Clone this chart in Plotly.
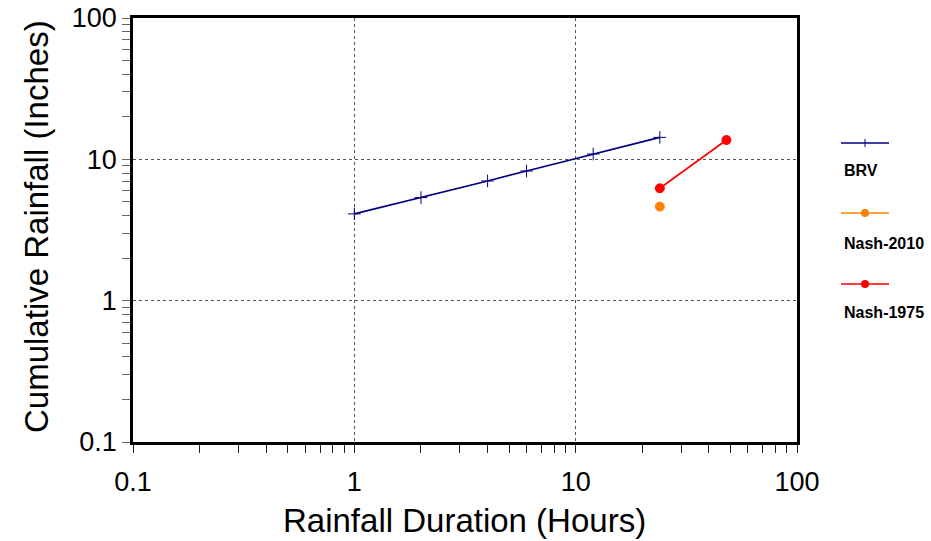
import plotly.graph_objects as go

# Data
brv_hours = [1, 2, 4, 6, 12, 24]
brv_rain = [4.11, 5.36, 7.03, 8.27, 10.9, 14.3]
nash2010_hours = [24]
nash2010_rain = [4.63]
nash1975_hours = [24, 48]
nash1975_rain = [6.24, 13.7]

tick_vals = [0.1, 1, 10, 100]
tick_text = ["0.1", "1", "10", "100"]

series = [
    ("BRV", brv_hours, brv_rain, "#000080", "cross-thin", 9),
    ("Nash-2010", nash2010_hours, nash2010_rain, "#FF8000", "circle", 9),
    ("Nash-1975", nash1975_hours, nash1975_rain, "#FF0000", "circle", 9),
]

W, H = 931, 541
L, R, T, B = 133, 797, 18, 442
FONT = "Liberation Sans, Arial"

fig = go.Figure()
for name, xs, ys, col, sym, sz in series:
    fig.add_trace(go.Scatter(
        x=xs, y=ys, name=name, mode="lines+markers",
        line=dict(color=col, width=1.7),
        marker=dict(symbol=sym, size=sz, color=col,
                    line=dict(color=col, width=1)),
        showlegend=False,
    ))

def px_x(p):
    return (p - L) / (R - L)

def px_y(p):
    return (B - p) / (B - T)

shapes = []
annotations = []
legend_rows = [(143, 171), (213, 243), (284, 313)]
for (name, xs, ys, col, sym, sz), (ly, ty) in zip(series, legend_rows):
    shapes.append(dict(type="line", xref="paper", yref="paper",
                       x0=px_x(841), x1=px_x(889), y0=px_y(ly), y1=px_y(ly),
                       line=dict(color=col, width=1.5)))
    if sym == "circle":
        shapes.append(dict(type="circle", xref="paper", yref="paper",
                           xsizemode="pixel", ysizemode="pixel",
                           xanchor=px_x(865), yanchor=px_y(ly),
                           x0=-4, x1=4, y0=-4, y1=4,
                           fillcolor=col, line=dict(color=col, width=0)))
    else:
        shapes.append(dict(type="line", xref="paper", yref="paper",
                           xsizemode="pixel", ysizemode="pixel",
                           xanchor=px_x(865), yanchor=px_y(ly),
                           x0=0, x1=0, y0=-4, y1=4,
                           line=dict(color=col, width=1)))
    annotations.append(dict(text=f"<b>{name}</b>", xref="paper", yref="paper",
                            x=px_x(842), y=px_y(ty), xanchor="left",
                            yanchor="middle", showarrow=False,
                            font=dict(family=FONT, size=16, color="black")))

# Axis titles as annotations for exact placement
annotations.append(dict(text="Rainfall Duration (Hours)", xref="paper",
                        yref="paper", x=px_x(464), y=px_y(520),
                        xanchor="center", yanchor="middle", showarrow=False,
                        font=dict(family=FONT, size=33, color="black")))
annotations.append(dict(text="Cumulative Rainfall (Inches)", xref="paper",
                        yref="paper", x=px_x(36), y=px_y(227),
                        xanchor="center", yanchor="middle", showarrow=False,
                        textangle=-90,
                        font=dict(family=FONT, size=33, color="black")))

axis_common = dict(
    type="log", range=[-1, 2],
    tickvals=tick_vals, ticktext=tick_text,
    showgrid=True, gridcolor="#555555", griddash="dot", gridwidth=1,
    showline=True, linecolor="black", linewidth=2.5, mirror=True,
    ticks="outside", ticklen=8, tickwidth=1,
    tickfont=dict(family=FONT, size=27, color="black"),
    zeroline=False, automargin=False,
)

fig.update_layout(
    width=W, height=H,
    margin=dict(l=L, r=W - R, t=T, b=H - B),
    paper_bgcolor="white", plot_bgcolor="white",
    xaxis=dict(**axis_common, tickcolor="#222222", ticklabelstandoff=6,
               minor=dict(ticks="outside", ticklen=8, tickcolor="#222222",
                          dtick="D1", showgrid=False)),
    yaxis=dict(**axis_common, tickcolor="#666666",
               minor=dict(ticks="outside", ticklen=8, tickcolor="#666666",
                          dtick="D1", showgrid=False)),
    shapes=shapes,
    annotations=annotations,
    showlegend=False,
)

fig.write_html("out.html",
               config={"displayModeBar": False},
               post_script="document.body.style.margin='0';"
                           "document.body.style.overflow='hidden';")
